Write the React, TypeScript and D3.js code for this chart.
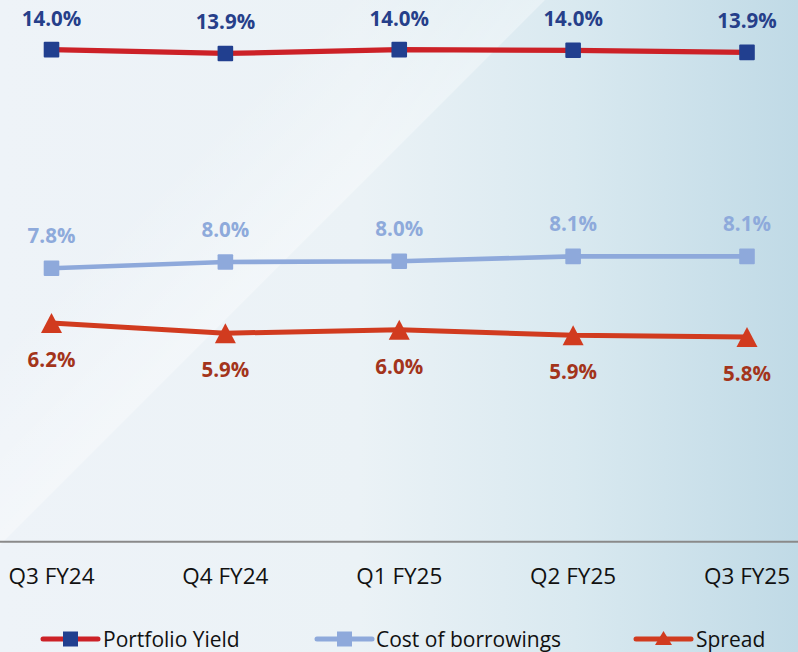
import React from "react";
import * as d3 from "d3";

const quarters = ["Q3 FY24", "Q4 FY24", "Q1 FY25", "Q2 FY25", "Q3 FY25"];
const portfolioYield = [14.02, 13.91, 14.02, 14.0, 13.94];
const costOfBorrowings = [7.79, 7.97, 7.99, 8.13, 8.13];
const spread = [6.23, 5.94, 6.04, 5.88, 5.83];
const legendLabels = ["Portfolio Yield", "Cost of borrowings", "Spread"];

const W = 798;
const H = 652;
const axisY = 541.7;
const pxPerPct = 35.1;
const FONT = "'Open Sans', 'Liberation Sans', sans-serif";

const series = [
  {
    name: legendLabels[0],
    values: portfolioYield,
    line: "#cc2127",
    marker: "#213f8f",
    label: "#263f8a",
    shape: "square",
    width: 5.2,
    labelDy: -24,
  },
  {
    name: legendLabels[1],
    values: costOfBorrowings,
    line: "#8ea9db",
    marker: "#8ea9db",
    label: "#8eaadb",
    shape: "square",
    width: 4.6,
    labelDy: -25,
  },
  {
    name: legendLabels[2],
    values: spread,
    line: "#d13b1f",
    marker: "#d13b1f",
    label: "#a3341b",
    shape: "triangle",
    width: 5,
    labelDy: 44,
  },
];

const triPath = (cx: number, cy: number, w: number, h: number) =>
  `M${cx},${cy - h / 2}L${cx + w / 2},${cy + h / 2}L${cx - w / 2},${cy + h / 2}Z`;

export default function App() {
  const x = d3.scalePoint<string>().domain(quarters).range([51.5, 747]);
  const y = d3
    .scaleLinear()
    .domain([0, 15])
    .range([axisY, axisY - 15 * pxPerPct]);

  const line = d3
    .line<number>()
    .x((_, i) => x(quarters[i]) as number)
    .y((d) => y(d));

  const legendItems = [
    { lx: 43, tx: 103 },
    { lx: 317, tx: 376 },
    { lx: 636, tx: 696 },
  ];

  return (
    <svg
      width={W}
      height={H}
      style={{ position: "fixed", left: 0, top: 0 }}
      fontFamily={FONT}
    >
      <defs>
        <linearGradient id="bg" x1="0" y1="0" x2="1" y2="0">
          <stop offset="0" stopColor="#eef3f8" />
          <stop offset="0.45" stopColor="#ebf2f6" />
          <stop offset="0.72" stopColor="#d9e9f0" />
          <stop offset="1" stopColor="#c0dae6" />
        </linearGradient>
        <linearGradient
          id="sheen"
          gradientUnits="userSpaceOnUse"
          x1="170"
          y1="170"
          x2="272"
          y2="272"
        >
          <stop offset="0" stopColor="#ffffff" stopOpacity="0" />
          <stop offset="1" stopColor="#ffffff" stopOpacity="0.35" />
        </linearGradient>
      </defs>
      <rect x={0} y={0} width={W} height={H} fill="url(#bg)" />
      <path d="M0,0L545,0L0,545Z" fill="url(#sheen)" />

      {/* axis line */}
      <line x1={0} x2={W} y1={axisY} y2={axisY} stroke="#8a8a8a" strokeWidth={2} />
      {quarters.map((q) => (
        <text
          key={q}
          x={x(q)}
          y={584}
          textAnchor="middle"
          fontSize={22.5}
          fill="#111"
        >
          {q}
        </text>
      ))}

      {series.map((s) => (
        <g key={s.name}>
          <path
            d={line(s.values) ?? ""}
            fill="none"
            stroke={s.line}
            strokeWidth={s.width}
            strokeLinejoin="round"
          />
          {s.values.map((v, i) => {
            const cx = x(quarters[i]) as number;
            const cy = y(v);
            return s.shape === "square" ? (
              <rect
                key={i}
                x={cx - 7.8}
                y={cy - 7.8}
                width={15.6}
                height={15.6}
                rx={1}
                fill={s.marker}
              />
            ) : (
              <path key={i} d={triPath(cx, cy, 21, 20)} fill={s.marker} />
            );
          })}
          {s.values.map((v, i) => (
            <text
              key={"l" + i}
              x={x(quarters[i])}
              y={y(v) + s.labelDy}
              textAnchor="middle"
              fontSize={20.5}
              fontWeight="bold"
              fill={s.label}
            >
              {v.toFixed(1)}%
            </text>
          ))}
        </g>
      ))}

      {/* legend */}
      {series.map((s, i) => {
        const { lx, tx } = legendItems[i];
        const cx = lx + 27.5;
        const cy = 639;
        return (
          <g key={"lg" + i}>
            <line
              x1={lx}
              x2={lx + 55}
              y1={cy}
              y2={cy}
              stroke={s.line}
              strokeWidth={5}
              strokeLinecap="round"
            />
            {s.shape === "square" ? (
              <rect x={cx - 7.5} y={cy - 7.5} width={15} height={15} fill={s.marker} />
            ) : (
              <path d={triPath(cx, cy - 1, 17, 14)} fill={s.marker} />
            )}
            <text x={tx} y={647} fontSize={21} fill="#111">
              {s.name}
            </text>
          </g>
        );
      })}
    </svg>
  );
}
